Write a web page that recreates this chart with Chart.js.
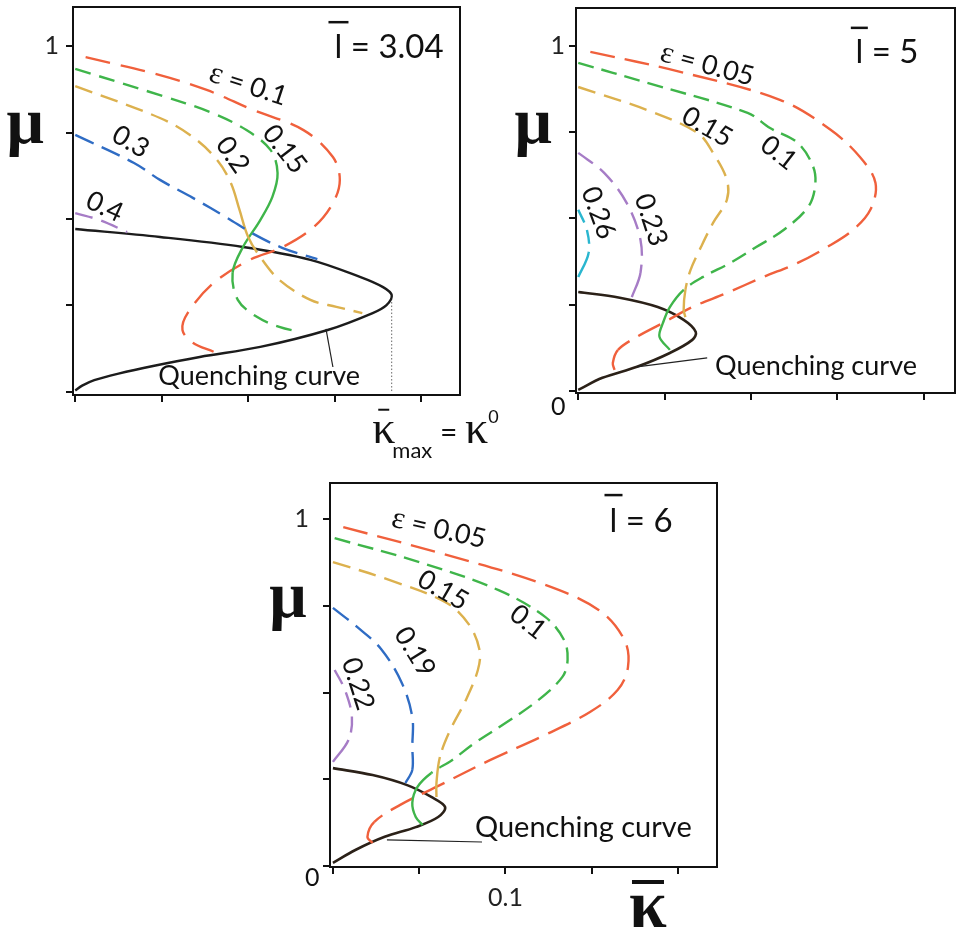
<!DOCTYPE html>
<html>
<head>
<meta charset="utf-8">
<script src="https://cdn.jsdelivr.net/npm/chart.js@4.4.1/dist/chart.umd.min.js"></script>
<style>
  html, body { margin: 0; padding: 0; background: #fff; width: 958px; height: 932px; overflow: hidden; }
  canvas { position: absolute; }
</style>
</head>
<body>
<canvas id="c1" width="515" height="470" style="left:0;top:0"></canvas>
<canvas id="c2" width="478" height="420" style="left:480px;top:0"></canvas>
<canvas id="c3" width="500" height="472" style="left:240px;top:460px"></canvas>
<script>
// ---- panel 1 : l = 3.04 ----
const p1Eps010K  = [0.006, 0.049, 0.076, 0.103, 0.132, 0.149, 0.153, 0.149, 0.138, 0.120, 0.101, 0.080, 0.065, 0.062, 0.068, 0.080];
const p1Eps010Mu = [0.968, 0.916, 0.873, 0.815, 0.757, 0.679, 0.613, 0.546, 0.477, 0.419, 0.382, 0.315, 0.228, 0.179, 0.142, 0.116];
const p1Eps015K  = [0, 0.049, 0.078, 0.099, 0.113, 0.117, 0.114, 0.107, 0.097, 0.091, 0.094, 0.105, 0.118, 0.130];
const p1Eps015Mu = [0.934, 0.858, 0.809, 0.757, 0.699, 0.633, 0.564, 0.497, 0.419, 0.344, 0.266, 0.217, 0.188, 0.173];
const p1Eps020K  = [0, 0.049, 0.068, 0.082, 0.090, 0.095, 0.100, 0.107, 0.118, 0.136, 0.151, 0.166];
const p1Eps020Mu = [0.884, 0.792, 0.737, 0.671, 0.604, 0.526, 0.448, 0.390, 0.324, 0.266, 0.246, 0.228];
const p1Eps030K  = [0, 0.034, 0.049, 0.068, 0.088, 0.103, 0.120, 0.140];
const p1Eps030Mu = [0.743, 0.662, 0.613, 0.561, 0.503, 0.457, 0.416, 0.384];
const p1Eps040K  = [0, 0.014, 0.030];
const p1Eps040Mu = [0.517, 0.497, 0.462];
const p1QuenchK  = [0, 0.049, 0.097, 0.136, 0.165, 0.178, 0.183, 0.180, 0.172, 0.146, 0.107, 0.072, 0.045, 0.025, 0.011, 0.004, 0];
const p1QuenchMu = [0.471, 0.448, 0.419, 0.382, 0.332, 0.303, 0.280, 0.251, 0.228, 0.179, 0.130, 0.101, 0.075, 0.053, 0.034, 0.018, 0.004];

// ---- panel 2 : l = 5 ----
const p2Eps005K  = [0.007, 0.059, 0.117, 0.146, 0.163, 0.172, 0.169, 0.159, 0.144, 0.127, 0.107, 0.086, 0.066, 0.049, 0.034, 0.023, 0.020, 0.021];
const p2Eps005Mu = [0.983, 0.925, 0.843, 0.757, 0.678, 0.603, 0.525, 0.467, 0.417, 0.371, 0.330, 0.284, 0.243, 0.197, 0.157, 0.119, 0.081, 0.061];
const p2Eps010K  = [0, 0.040, 0.098, 0.111, 0.127, 0.136, 0.137, 0.133, 0.119, 0.103, 0.088, 0.072, 0.061, 0.053, 0.049, 0.047, 0.053];
const p2Eps010Mu = [0.951, 0.893, 0.806, 0.762, 0.719, 0.649, 0.591, 0.533, 0.467, 0.417, 0.371, 0.330, 0.293, 0.243, 0.197, 0.157, 0.119];
const p2Eps015K  = [0, 0.040, 0.069, 0.078, 0.086, 0.086, 0.078, 0.071, 0.065, 0.062, 0.061, 0.062];
const p2Eps015Mu = [0.881, 0.814, 0.748, 0.690, 0.612, 0.554, 0.487, 0.417, 0.351, 0.293, 0.235, 0.214];
const p2Eps023K  = [0, 0.015, 0.028, 0.036, 0.036, 0.031];
const p2Eps023Mu = [0.690, 0.632, 0.545, 0.438, 0.342, 0.272];
const p2Eps026K  = [0, 0.005, 0.006, 0];
const p2Eps026Mu = [0.525, 0.467, 0.400, 0.330];
const p2QuenchK  = [0, 0.024, 0.046, 0.061, 0.068, 0.066, 0.053, 0.034, 0.014, 0];
const p2QuenchMu = [0.287, 0.270, 0.243, 0.206, 0.171, 0.148, 0.110, 0.070, 0.038, 0.003];

// ---- panel 3 : l = 6 ----
const p3Eps005K  = [0.006, 0.062, 0.120, 0.154, 0.169, 0.171, 0.165, 0.149, 0.123, 0.091, 0.062, 0.039, 0.024, 0.020, 0.023];
const p3Eps005Mu = [0.977, 0.902, 0.816, 0.738, 0.651, 0.573, 0.507, 0.444, 0.378, 0.305, 0.233, 0.176, 0.127, 0.084, 0.066];
const p3Eps010K  = [0.001, 0.052, 0.096, 0.123, 0.134, 0.136, 0.133, 0.119, 0.100, 0.082, 0.069, 0.057, 0.049, 0.046, 0.048, 0.052];
const p3Eps010Mu = [0.945, 0.873, 0.795, 0.718, 0.651, 0.594, 0.545, 0.478, 0.412, 0.354, 0.305, 0.268, 0.228, 0.182, 0.141, 0.118];
const p3Eps015K  = [0, 0.033, 0.066, 0.079, 0.085, 0.084, 0.077, 0.068, 0.062, 0.060, 0.060];
const p3Eps015Mu = [0.876, 0.824, 0.758, 0.695, 0.622, 0.565, 0.478, 0.392, 0.314, 0.239, 0.199];
const p3Eps019K  = [0, 0.014, 0.028, 0.040, 0.046, 0.046, 0.046, 0.042];
const p3Eps019Mu = [0.744, 0.689, 0.625, 0.527, 0.429, 0.343, 0.277, 0.239];
const p3Eps022K  = [0.001, 0.007, 0.011, 0.009, 0];
const p3Eps022Mu = [0.565, 0.507, 0.429, 0.363, 0.300];
const p3QuenchK  = [0, 0.023, 0.043, 0.057, 0.065, 0.061, 0.048, 0.030, 0.013, 0];
const p3QuenchMu = [0.282, 0.262, 0.233, 0.199, 0.170, 0.141, 0.112, 0.084, 0.046, 0.009];

const RED = '#f0603c', GREEN = '#3fb54a', GOLD = '#dcb14e', BLUE = '#2f6cc4',
      PURPLE = '#a67cc6', CYAN = '#2ab6cf', BLACK = '#1c1c1c', BROWN = '#2b2118';
const SANS = "Lato, 'Open Sans', sans-serif";
const SERIF = "'Liberation Serif', 'DejaVu Serif', serif";

function curve(k, mu, color, dash, solid, width) {
  const ds = {
    data: k.map((x, i) => ({ x: x, y: mu[i] })),
    showLine: true, borderColor: color, borderWidth: width || 2.4,
    pointRadius: 0, tension: 0.35, fill: false, borderDash: dash
  };
  if (solid) {
    ds.segment = {
      borderDash: c => (c.p0DataIndex >= solid[0] && c.p1DataIndex <= solid[1]) ? [] : dash
    };
  }
  return ds;
}

// text, leader lines and the closed frame
const notes = {
  id: 'notes',
  afterDatasetsDraw(chart, args, opts) {
    const { ctx, chartArea: a, scales: { x, y } } = chart;
    ctx.save();
    ctx.strokeStyle = '#111';
    ctx.lineWidth = 2;
    ctx.strokeRect(a.left, a.top, a.right - a.left, a.bottom - a.top);

    (opts.leaders || []).forEach(l => {
      ctx.beginPath();
      ctx.lineWidth = 1.2;
      ctx.strokeStyle = '#222';
      ctx.moveTo(x.getPixelForValue(l[0][0]), y.getPixelForValue(l[0][1]));
      ctx.lineTo(x.getPixelForValue(l[1][0]), y.getPixelForValue(l[1][1]));
      ctx.stroke();
    });

    (opts.items || []).forEach(it => {
      ctx.save();
      ctx.translate(x.getPixelForValue(it.x), y.getPixelForValue(it.y));
      ctx.rotate((it.rot || 0) * Math.PI / 180);
      ctx.textBaseline = it.base || 'middle';
      ctx.textAlign = 'left';
      ctx.fillStyle = '#111';
      let total = 0;
      const widths = it.parts.map(p => {
        ctx.font = p.font;
        const w = ctx.measureText(p.t).width + (p.dx || 0);
        total += w;
        return w;
      });
      let cx = it.align === 'left' ? 0 : -total / 2;
      it.parts.forEach((p, i) => {
        ctx.font = p.font;
        const left = cx + (p.dx || 0);
        ctx.fillText(p.t, left, p.dy || 0);
        if (p.bar) {
          const gw = ctx.measureText(p.t).width;
          ctx.beginPath();
          ctx.lineWidth = p.bar[2];
          ctx.strokeStyle = '#111';
          ctx.moveTo(left + gw / 2 - p.bar[0] / 2, -p.bar[1]);
          ctx.lineTo(left + gw / 2 + p.bar[0] / 2, -p.bar[1]);
          ctx.stroke();
        }
        cx += widths[i];
      });
      ctx.restore();
    });
    ctx.restore();
  }
};

function makeChart(id, datasets, cfg) {
  const axisLine = { display: true, color: '#111', width: 2 };
  const grid = { drawOnChartArea: false, drawTicks: true, tickLength: 7, color: '#111', lineWidth: 2 };
  return new Chart(document.getElementById(id), {
    type: 'scatter',
    data: { datasets: datasets },
    plugins: [notes],
    options: {
      responsive: false,
      animation: false,
      devicePixelRatio: 1,
      layout: { padding: { left: 0, top: cfg.top, right: cfg.right, bottom: 0 } },
      scales: {
        x: {
          type: 'linear', min: cfg.x[0], max: cfg.x[1],
          afterFit: s => { s.height = cfg.xH; s.paddingLeft = 0; s.paddingRight = 0; },
          border: axisLine, grid: grid,
          ticks: {
            stepSize: 0.05, includeBounds: false, autoSkip: false, maxRotation: 0,
            padding: 9, color: '#222', font: { family: SANS, size: 25 },
            callback: v => (cfg.xLabel && Math.abs(v - 0.1) < 1e-6) ? '0.1' : ''
          }
        },
        y: {
          type: 'linear', min: cfg.y[0], max: cfg.y[1],
          afterFit: s => { s.width = cfg.yW; s.paddingTop = 0; s.paddingBottom = 0; },
          border: axisLine, grid: grid,
          ticks: {
            stepSize: 0.25, includeBounds: false, autoSkip: false,
            padding: cfg.yPad, color: '#222', font: { family: SANS, size: 25 },
            callback: v => Math.abs(v - 1) < 1e-6 ? '1' : ''
          }
        }
      },
      plugins: {
        legend: { display: false },
        tooltip: { enabled: false },
        notes: { items: cfg.items, leaders: cfg.leaders }
      }
    }
  });
}

const numFont = `27px ${SANS}`;
const epsFont = `31px ${SERIF}`;

// panel 1
const p1TipK = Math.max(...p1QuenchK);
const p1TipMu = p1QuenchMu[p1QuenchK.indexOf(p1TipK)];
makeChart('c1', [
  curve(p1Eps040K, p1Eps040Mu, PURPLE, [18, 9]),
  curve(p1Eps030K, p1Eps030Mu, BLUE, [20, 9]),
  curve(p1Eps020K, p1Eps020Mu, GOLD, [18, 9], [4, 6]),
  curve(p1Eps015K, p1Eps015Mu, GREEN, [16, 9], [5, 9]),
  curve(p1Eps010K, p1Eps010Mu, RED, [25, 11]),
  curve(p1QuenchK, p1QuenchMu, BLACK, [], null, 2.4),
  { data: [{ x: p1TipK, y: p1TipMu }, { x: p1TipK, y: 0 }], showLine: true, pointRadius: 0,
    borderColor: '#666', borderWidth: 1, borderDash: [1.5, 2] }
], {
  x: [-0.0013, 0.2225], y: [-0.009, 1.113], yW: 73, xH: 75, top: 7, right: 55, yPad: 7,
  leaders: [[[0.149, 0.072], [0.145, 0.182]]],
  items: [
    { x: 0.100, y: 0.887, rot: 18, parts: [{ t: 'ε', font: epsFont }, { t: ' = 0.1', font: numFont }] },
    { x: 0.121, y: 0.702, rot: 52, parts: [{ t: '0.15', font: numFont }] },
    { x: 0.091, y: 0.685, rot: 55, parts: [{ t: '0.2', font: numFont }] },
    { x: 0.032, y: 0.723, rot: 30, parts: [{ t: '0.3', font: numFont }] },
    { x: 0.017, y: 0.535, rot: 25, parts: [{ t: '0.4', font: numFont }] },
    { x: 0.1815, y: 0.965, base: 'alphabetic',
      parts: [{ t: 'l', font: `33px ${SANS}`, bar: [20, 36, 2.5] }, { t: ' = 3.04', font: `33px ${SANS}` }] },
    { x: 0.048, y: 0.020, base: 'alphabetic', align: 'left', parts: [{ t: 'Quenching curve', font: `27px ${SANS}` }] },
    { x: -0.0289, y: 0.720, base: 'alphabetic', parts: [{ t: 'μ', font: `bold 66px ${SERIF}` }] },
    { x: 0.1717, y: -0.147, base: 'alphabetic', align: 'left', parts: [
      { t: 'κ', font: `46px ${SERIF}`, bar: [11, 33, 2] },
      { t: 'max', font: `22px ${SANS}`, dy: 15, dx: -3 },
      { t: ' = ', font: `30px ${SANS}` },
      { t: 'κ', font: `46px ${SERIF}` },
      { t: '0', font: `18px ${SANS}`, dy: -20 }
    ] }
  ]
});

// panel 2
makeChart('c2', [
  curve(p2Eps026K, p2Eps026Mu, CYAN, [14, 8], [2, 3]),
  curve(p2Eps023K, p2Eps023Mu, PURPLE, [18, 9], [4, 5]),
  curve(p2Eps015K, p2Eps015Mu, GOLD, [18, 9], [9, 11]),
  curve(p2Eps010K, p2Eps010Mu, GREEN, [16, 8], [12, 16]),
  curve(p2Eps005K, p2Eps005Mu, RED, [25, 10], [15, 17]),
  curve(p2QuenchK, p2QuenchMu, BROWN, [], null, 2.6)
], {
  x: [-0.0013, 0.218], y: [-0.006, 1.110], yW: 96, xH: 27, top: 8, right: 3, yPad: 4,
  leaders: [[[0.0746, 0.096], [0.034, 0.070]]],
  items: [
    { x: 0.0746, y: 0.945, rot: 15, parts: [{ t: 'ε', font: epsFont }, { t: ' = 0.05', font: numFont }] },
    { x: 0.0746, y: 0.765, rot: 30, parts: [{ t: '0.15', font: numFont }] },
    { x: 0.116, y: 0.690, rot: 38, parts: [{ t: '0.1', font: numFont }] },
    { x: 0.0116, y: 0.516, rot: 70, parts: [{ t: '0.26', font: numFont }] },
    { x: 0.042, y: 0.496, rot: 72, parts: [{ t: '0.23', font: numFont }] },
    { x: 0.1786, y: 0.951, base: 'alphabetic',
      parts: [{ t: 'l', font: `33px ${SANS}`, bar: [17, 35, 2.5] }, { t: ' = 5', font: `33px ${SANS}` }] },
    { x: 0.0792, y: 0.046, base: 'alphabetic', align: 'left', parts: [{ t: 'Quenching curve', font: `27px ${SANS}` }] },
    { x: -0.026, y: 0.719, base: 'alphabetic', parts: [{ t: 'μ', font: `bold 66px ${SERIF}` }] },
    { x: -0.0116, y: -0.046, parts: [{ t: '0', font: `25px ${SANS}` }] }
  ]
});

// panel 3
makeChart('c3', [
  curve(p3Eps022K, p3Eps022Mu, PURPLE, [16, 9], [3, 4]),
  curve(p3Eps019K, p3Eps019Mu, BLUE, [20, 9], [6, 7]),
  curve(p3Eps015K, p3Eps015Mu, GOLD, [18, 9], [8, 10]),
  curve(p3Eps010K, p3Eps010Mu, GREEN, [16, 8], [11, 15]),
  curve(p3Eps005K, p3Eps005Mu, RED, [25, 10], [12, 14]),
  curve(p3QuenchK, p3QuenchMu, BROWN, [], null, 2.6)
], {
  x: [-0.0017, 0.2226], y: [-0.003, 1.104], yW: 90, xH: 65, top: 23, right: 23, yPad: 14, xLabel: true,
  leaders: [[[0.0864, 0.069], [0.0313, 0.075]]],
  items: [
    { x: 0.0614, y: 0.971, rot: 13, parts: [{ t: 'ε', font: epsFont }, { t: ' = 0.05', font: numFont }] },
    { x: 0.0638, y: 0.795, rot: 30, parts: [{ t: '0.15', font: numFont }] },
    { x: 0.113, y: 0.703, rot: 38, parts: [{ t: '0.1', font: numFont }] },
    { x: 0.0475, y: 0.617, rot: 58, parts: [{ t: '0.19', font: numFont }] },
    { x: 0.0145, y: 0.525, rot: 72, parts: [{ t: '0.22', font: numFont }] },
    { x: 0.1786, y: 0.9625, base: 'alphabetic',
      parts: [{ t: 'l', font: `33px ${SANS}`, bar: [18, 37, 2.5] }, { t: ' = 6', font: `33px ${SANS}` }] },
    { x: 0.0823, y: 0.0836, base: 'alphabetic', align: 'left', parts: [{ t: 'Quenching curve', font: `29px ${SANS}` }] },
    { x: -0.0261, y: 0.718, base: 'alphabetic', parts: [{ t: 'μ', font: `bold 66px ${SERIF}` }] },
    { x: -0.012, y: -0.035, parts: [{ t: '0', font: `25px ${SANS}` }] },
    { x: 0.1826, y: -0.176, base: 'alphabetic', parts: [{ t: 'κ', font: `bold 68px ${SERIF}`, bar: [32, 45, 4] }] }
  ]
});
</script>
</body>
</html>
